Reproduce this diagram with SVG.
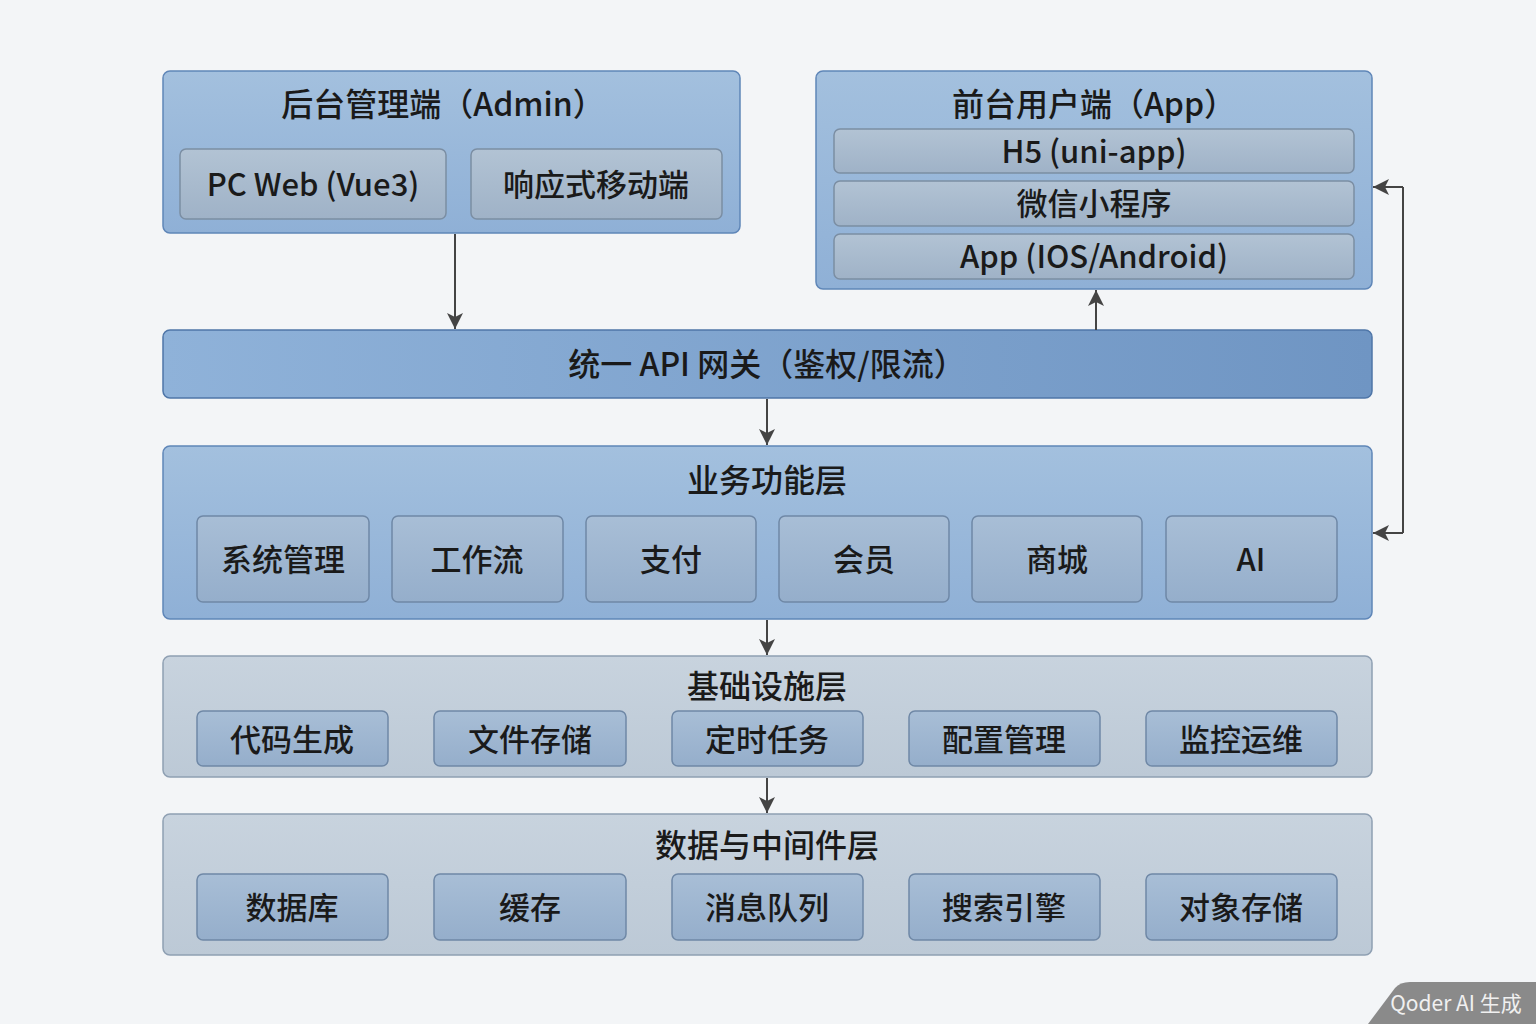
<svg xmlns="http://www.w3.org/2000/svg" width="1536" height="1024" viewBox="0 0 1536 1024">
<style>
text{font-family:"Noto Sans CJK SC","Noto Sans",sans-serif;fill:#1a1a1a;text-anchor:middle;dominant-baseline:central;font-weight:500}
.blue{fill:url(#gb);stroke:#5f86b8;stroke-width:1.5}
.gray{fill:url(#gg);stroke:#8fa0b3;stroke-width:1.5}
.cb{fill:url(#gc);stroke:#7b8ea3;stroke-width:1.5}
.cg{fill:url(#gd);stroke:#6f88a6;stroke-width:1.5}
.t{font-size:32px}
.s{font-size:31px}
.ln{stroke:#444;stroke-width:2;fill:none}
</style>
<defs>
<linearGradient id="gb" x1="0" y1="0" x2="0" y2="1"><stop offset="0" stop-color="#a3c0de"/><stop offset="1" stop-color="#8fb0d6"/></linearGradient>
<linearGradient id="gg" x1="0" y1="0" x2="0" y2="1"><stop offset="0" stop-color="#c8d3de"/><stop offset="1" stop-color="#bcc9d6"/></linearGradient>
<linearGradient id="gc" x1="0" y1="0" x2="0" y2="1"><stop offset="0" stop-color="#b2c3d4"/><stop offset="1" stop-color="#9fb2c7"/></linearGradient>
<linearGradient id="gd" x1="0" y1="0" x2="0" y2="1"><stop offset="0" stop-color="#a8bed6"/><stop offset="1" stop-color="#95aecb"/></linearGradient>
<linearGradient id="gw" x1="0" y1="0" x2="1" y2="0"><stop offset="0" stop-color="#8fb2d9"/><stop offset="1" stop-color="#6f95c3"/></linearGradient>
<marker id="ar" viewBox="0 0 16 16" refX="16" refY="8" markerWidth="16" markerHeight="16" markerUnits="userSpaceOnUse" orient="auto"><path d="M0,0L16,8L0,16L4,8z" fill="#444"/></marker>
</defs>
<rect width="1536" height="1024" fill="#f3f5f7"/>
<g id="admin">
<rect class="blue" x="163" y="71" width="577" height="162" rx="7"/>
<text class="t" x="443" y="102">后台管理端（Admin）</text>
<rect class="cb" x="180" y="149" width="266" height="70" rx="6"/><text class="s" x="313" y="182">PC Web (Vue3)</text>
<rect class="cb" x="471" y="149" width="251" height="70" rx="6"/><text class="s" x="596" y="182">响应式移动端</text>
</g>
<g id="app">
<rect class="blue" x="816" y="71" width="556" height="218" rx="7"/>
<text class="t" x="1094" y="102">前台用户端（App）</text>
<rect class="cb" x="834" y="129" width="520" height="44" rx="6"/><text class="s" x="1094" y="149">H5 (uni-app)</text>
<rect class="cb" x="834" y="181" width="520" height="45" rx="6"/><text class="s" x="1094" y="201">微信小程序</text>
<rect class="cb" x="834" y="234" width="520" height="45" rx="6"/><text class="s" x="1094" y="254">App (IOS/Android)</text>
</g>
<g id="gateway">
<rect x="163" y="330" width="1209" height="68" rx="7" fill="url(#gw)" stroke="#4f76a8" stroke-width="1.5"/>
<text class="t" x="767" y="362">统一 API 网关（鉴权/限流）</text>
</g>
<g id="business">
<rect class="blue" x="163" y="446" width="1209" height="173" rx="7"/>
<text class="t" x="767" y="478">业务功能层</text>
<rect class="cg" x="197" y="516" width="172" height="86" rx="6"/><text class="s" x="283" y="557">系统管理</text>
<rect class="cg" x="392" y="516" width="171" height="86" rx="6"/><text class="s" x="477" y="557">工作流</text>
<rect class="cg" x="586" y="516" width="170" height="86" rx="6"/><text class="s" x="671" y="557">支付</text>
<rect class="cg" x="779" y="516" width="170" height="86" rx="6"/><text class="s" x="864" y="557">会员</text>
<rect class="cg" x="972" y="516" width="170" height="86" rx="6"/><text class="s" x="1057" y="557">商城</text>
<rect class="cg" x="1166" y="516" width="171" height="86" rx="6"/><text class="s" x="1251" y="557">AI</text>
</g>
<g id="infra">
<rect class="gray" x="163" y="656" width="1209" height="121" rx="7"/>
<text class="t" x="767" y="684">基础设施层</text>
<rect class="cg" x="197" y="711" width="191" height="55" rx="6"/><text class="s" x="292" y="737">代码生成</text>
<rect class="cg" x="434" y="711" width="192" height="55" rx="6"/><text class="s" x="530" y="737">文件存储</text>
<rect class="cg" x="672" y="711" width="191" height="55" rx="6"/><text class="s" x="767" y="737">定时任务</text>
<rect class="cg" x="909" y="711" width="191" height="55" rx="6"/><text class="s" x="1004" y="737">配置管理</text>
<rect class="cg" x="1146" y="711" width="191" height="55" rx="6"/><text class="s" x="1241" y="737">监控运维</text>
</g>
<g id="data">
<rect class="gray" x="163" y="814" width="1209" height="141" rx="7"/>
<text class="t" x="767" y="843">数据与中间件层</text>
<rect class="cg" x="197" y="874" width="191" height="66" rx="6"/><text class="s" x="292" y="905">数据库</text>
<rect class="cg" x="434" y="874" width="192" height="66" rx="6"/><text class="s" x="530" y="905">缓存</text>
<rect class="cg" x="672" y="874" width="191" height="66" rx="6"/><text class="s" x="767" y="905">消息队列</text>
<rect class="cg" x="909" y="874" width="191" height="66" rx="6"/><text class="s" x="1004" y="905">搜索引擎</text>
<rect class="cg" x="1146" y="874" width="191" height="66" rx="6"/><text class="s" x="1241" y="905">对象存储</text>
</g>
<g id="connectors">
<line class="ln" x1="455" y1="234" x2="455" y2="329" marker-end="url(#ar)"/>
<line class="ln" x1="1096" y1="330" x2="1096" y2="290" marker-end="url(#ar)"/>
<line class="ln" x1="767" y1="399" x2="767" y2="445" marker-end="url(#ar)"/>
<line class="ln" x1="767" y1="620" x2="767" y2="655" marker-end="url(#ar)"/>
<line class="ln" x1="767" y1="778" x2="767" y2="813" marker-end="url(#ar)"/>
<path class="ln" d="M1403,187V533"/>
<line class="ln" x1="1403" y1="187" x2="1373" y2="187" marker-end="url(#ar)"/>
<line class="ln" x1="1403" y1="533" x2="1373" y2="533" marker-end="url(#ar)"/>
</g>
<g id="watermark">
<path d="M1368,1024L1395,988Q1400,982 1410,982H1536V1024Z" fill="#8a8a8a"/>
<text x="1456" y="1002" style="font-size:21px;fill:#f0f0f0;font-weight:400">Qoder AI 生成</text>
</g>
</svg>
